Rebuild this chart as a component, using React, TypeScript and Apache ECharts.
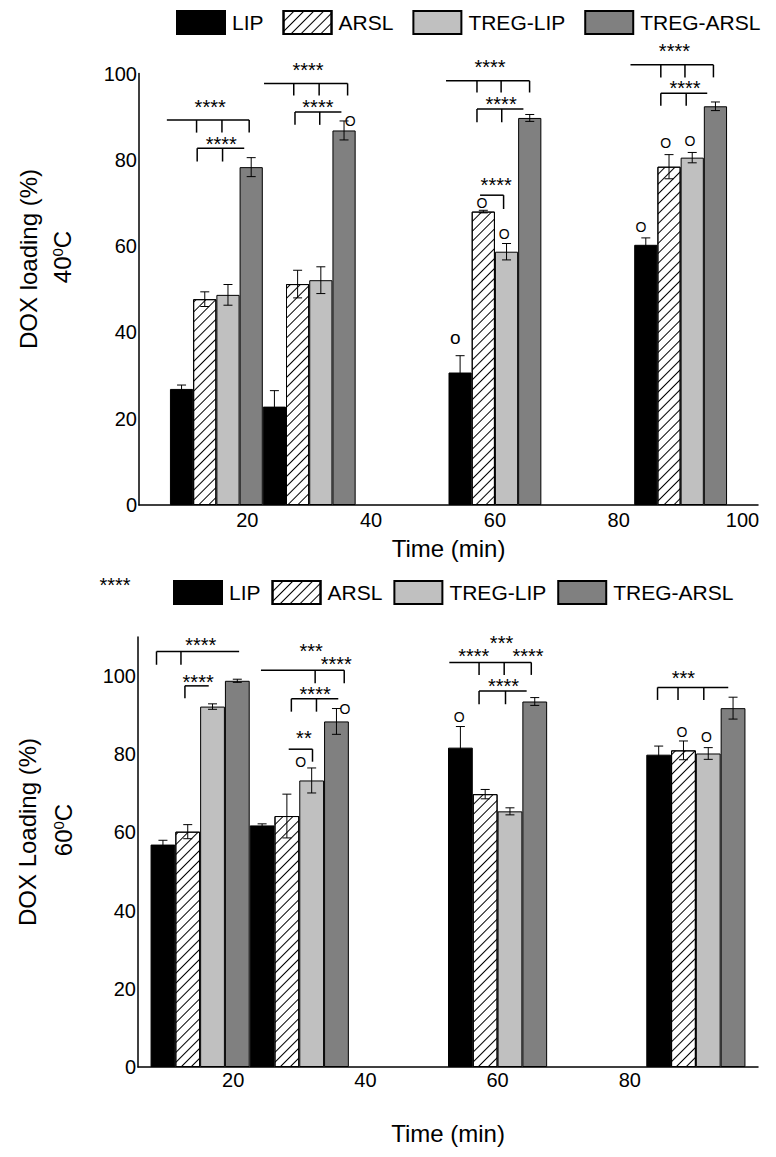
import React, { useEffect, useRef } from 'react';
import * as echarts from 'echarts';

const FONT = '"Liberation Sans", Arial, Helvetica, sans-serif';

// ---- data ----
const TIMES = [15, 30, 60, 90];
const SERIES_NAMES = ['LIP', 'ARSL', 'TREG-LIP', 'TREG-ARSL'];

// 40 C
const LIP_40 = [26.9, 22.8, 30.7, 60.3];
const LIP_40_ERR = [0.9, 3.7, 3.9, 1.6];
const ARSL_40 = [47.7, 51.2, 68.0, 78.4];
const ARSL_40_ERR = [1.7, 3.2, 0.3, 2.8];
const TLIP_40 = [48.7, 52.1, 58.7, 80.5];
const TLIP_40_ERR = [2.4, 3.1, 1.9, 1.2];
const TARSL_40 = [78.3, 86.8, 89.7, 92.4];
const TARSL_40_ERR = [2.2, 2.2, 0.8, 1.0];

// 60 C
const LIP_60 = [56.9, 61.8, 81.7, 79.9];
const LIP_60_ERR = [1.1, 0.4, 5.4, 2.2];
const ARSL_60 = [60.2, 64.2, 69.8, 81.0];
const ARSL_60_ERR = [1.8, 5.6, 1.2, 2.4];
const TLIP_60 = [92.2, 73.3, 65.4, 80.2];
const TLIP_60_ERR = [0.7, 3.2, 0.9, 1.5];
const TARSL_60 = [98.8, 88.4, 93.5, 91.8];
const TARSL_60_ERR = [0.4, 3.3, 1.0, 2.8];

const X_TICKS_40 = [20, 40, 60, 80, 100];
const X_TICKS_60 = [20, 40, 60, 80];
const Y_TICKS_60 = [0, 20, 40, 60, 80, 100];

// significance brackets: y level, x from/to, drop positions, drop end level
const BRACKETS_40 = [
  { y: 89.2, x1: 7.0, x2: 20.3, drops: [11.8, 15.9, 20.3], yEnd: 86.3 },
  { y: 82.7, x1: 11.9, x2: 19.5, drops: [11.9, 16.0], yEnd: 79.6 },
  { y: 97.7, x1: 22.7, x2: 36.2, drops: [27.5, 31.6, 36.2], yEnd: 94.9 },
  { y: 91.1, x1: 27.7, x2: 35.2, drops: [27.7, 31.7], yEnd: 88.1 },
  { y: 98.3, x1: 52.1, x2: 65.6, drops: [57.1, 61.0, 65.6], yEnd: 95.6 },
  { y: 91.8, x1: 57.1, x2: 64.6, drops: [57.1, 61.1], yEnd: 88.7 },
  { y: 71.8, x1: 57.6, x2: 61.4, drops: [61.4], yEnd: 68.6 },
  { y: 102.0, x1: 81.9, x2: 95.3, drops: [86.8, 90.7, 95.3], yEnd: 99.1 },
  { y: 95.4, x1: 86.8, x2: 94.3, drops: [86.8, 90.9], yEnd: 92.5 },
];
const MARKS_40: [number, number, string][] = [
  [14.0, 92.9, '****'], [15.8, 84.4, '****'],
  [29.8, 101.6, '****'], [31.4, 92.9, '****'], [36.6, 89.1, 'O'],
  [59.2, 102.2, '****'], [61.0, 93.6, '****'], [60.2, 74.9, '****'],
  [57.9, 69.9, 'O'], [61.5, 62.8, 'O'], [53.6, 38.9, 'o'],
  [89.0, 105.8, '****'], [90.7, 97.3, '****'],
  [87.6, 83.8, 'O'], [91.5, 84.4, 'O'], [83.6, 64.5, 'O'],
];

const BRACKETS_60 = [
  { y: 106.3, x1: 8.4, x2: 20.9, drops: [8.4, 12.1], yEnd: 102.9 },
  { y: 97.5, x1: 12.7, x2: 16.3, drops: [12.7], yEnd: 94.3 },
  { y: 101.5, x1: 24.2, x2: 36.8, drops: [32.4, 36.8], yEnd: 98.2 },
  { y: 94.2, x1: 28.8, x2: 35.9, drops: [28.8, 32.6], yEnd: 90.9 },
  { y: 81.3, x1: 28.4, x2: 32.0, drops: [32.0], yEnd: 78.1 },
  { y: 103.5, x1: 52.7, x2: 65.1, drops: [57.2, 61.0, 65.1], yEnd: 100.3 },
  { y: 96.2, x1: 57.2, x2: 64.4, drops: [57.2, 61.2], yEnd: 92.8 },
  { y: 97.1, x1: 84.2, x2: 94.9, drops: [84.2, 87.3, 91.2], yEnd: 93.9 },
];
const MARKS_60: [number, number, string][] = [
  [15.1, 108.7, '****'], [14.7, 99.2, '****'],
  [31.8, 107.2, '***'], [35.6, 103.8, '****'], [32.4, 96.2, '****'],
  [30.7, 84.9, '**'], [30.2, 77.9, 'O'], [36.9, 91.6, 'O'],
  [60.6, 109.3, '***'], [56.4, 105.9, '****'], [64.6, 105.9, '****'],
  [60.9, 98.2, '****'], [54.2, 89.6, 'O'],
  [88.1, 100.2, '***'], [87.9, 85.6, 'O'], [91.6, 84.5, 'O'],
];

// ---- styles ----
const BAR_UNITS = 3.75; // width of one bar in minutes (4 bars fill the 15-min gap)
const BAR_STYLES = [
  { color: '#000000', borderColor: '#000', borderWidth: 1 },
  {
    color: '#ffffff', borderColor: '#000', borderWidth: 1,
    decal: {
      symbol: 'rect', symbolSize: 1, color: '#000', backgroundColor: '#ffffff',
      dashArrayX: [1, 0], dashArrayY: [1, 5.5], rotation: -Math.PI / 4,
    },
  },
  { color: '#c0c0c0', borderColor: '#000', borderWidth: 1 },
  { color: '#808080', borderColor: '#000', borderWidth: 1 },
];

function barSeries(values: number[][], axis: number) {
  return values.map((vals, k) => ({
    type: 'bar',
    name: SERIES_NAMES[k],
    xAxisIndex: axis,
    yAxisIndex: axis,
    barGap: '0%',
    barCategoryGap: '0%',
    itemStyle: BAR_STYLES[k],
    emphasis: { disabled: true },
    data: TIMES.map((t, i) => [t, vals[i]]),
  }));
}

function errorSeries(values: number[][], errs: number[][], axis: number) {
  const data: number[][] = [];
  values.forEach((vals, k) => TIMES.forEach((t, i) => data.push([t, vals[i], errs[k][i], k])));
  return {
    type: 'custom',
    xAxisIndex: axis,
    yAxisIndex: axis,
    silent: true,
    z: 5,
    data,
    encode: { x: 0, y: 1 },
    renderItem: (params: any, api: any) => {
      const t = api.value(0), v = api.value(1), e = api.value(2), k = api.value(3);
      const xc = t + (k - 1.5) * BAR_UNITS;
      const top = api.coord([xc, v + e]);
      const bot = api.coord([xc, v - e]);
      const hw = 4.5;
      const st = { stroke: '#000', lineWidth: 1 };
      return {
        type: 'group',
        children: [
          { type: 'line', shape: { x1: top[0], y1: top[1], x2: bot[0], y2: bot[1] }, style: st },
          { type: 'line', shape: { x1: top[0] - hw, y1: top[1], x2: top[0] + hw, y2: top[1] }, style: st },
          { type: 'line', shape: { x1: bot[0] - hw, y1: bot[1], x2: bot[0] + hw, y2: bot[1] }, style: st },
        ],
      };
    },
  };
}

function bracketSeries(brackets: any[], axis: number) {
  return {
    type: 'custom',
    xAxisIndex: axis,
    yAxisIndex: axis,
    silent: true,
    z: 6,
    data: brackets.map((b) => [b.x1, b.y]),
    encode: { x: 0, y: 1 },
    renderItem: (params: any, api: any) => {
      const b = brackets[params.dataIndex];
      const p1 = api.coord([b.x1, b.y]);
      const p2 = api.coord([b.x2, b.y]);
      const yEnd = api.coord([b.x1, b.yEnd])[1];
      const st = { stroke: '#000', lineWidth: 1.5 };
      const children: any[] = [
        { type: 'line', shape: { x1: p1[0], y1: p1[1], x2: p2[0], y2: p2[1] }, style: st },
      ];
      b.drops.forEach((d: number) => {
        const x = api.coord([d, b.y])[0];
        children.push({ type: 'line', shape: { x1: x, y1: p1[1], x2: x, y2: yEnd }, style: st });
      });
      return { type: 'group', children };
    },
  };
}

function markSeries(marks: [number, number, string][], axis: number) {
  return {
    type: 'custom',
    xAxisIndex: axis,
    yAxisIndex: axis,
    silent: true,
    z: 7,
    data: marks.map((m) => [m[0], m[1]]),
    encode: { x: 0, y: 1 },
    renderItem: (params: any, api: any) => {
      const m = marks[params.dataIndex];
      const p = api.coord([m[0], m[1]]);
      const isStar = m[2].indexOf('*') >= 0;
      const size = isStar ? 20 : m[2] === 'o' ? 19 : 14;
      return {
        type: 'text',
        x: p[0],
        y: p[1] + (isStar ? 3 : 0),
        style: {
          text: m[2], fontSize: size, fontFamily: FONT, fill: '#000',
          align: 'center', verticalAlign: 'middle',
        },
      };
    },
  };
}

const axisLineStyle = { show: true, lineStyle: { color: '#000', width: 1.5 } };

export default function App() {
  const ref = useRef<HTMLDivElement>(null);
  useEffect(() => {
    document.body.style.margin = '0';
    const chart = echarts.init(ref.current!, undefined, { renderer: 'svg' });
    const v40 = [LIP_40, ARSL_40, TLIP_40, TARSL_40];
    const e40 = [LIP_40_ERR, ARSL_40_ERR, TLIP_40_ERR, TARSL_40_ERR];
    const v60 = [LIP_60, ARSL_60, TLIP_60, TARSL_60];
    const e60 = [LIP_60_ERR, ARSL_60_ERR, TLIP_60_ERR, TARSL_60_ERR];
    const legendBase = {
      data: SERIES_NAMES,
      orient: 'horizontal',
      itemWidth: 48,
      itemHeight: 23,
      icon: 'rect',
      selectedMode: false,
      padding: 0,
      textStyle: { fontSize: 21, fontFamily: FONT, color: '#000', padding: [0, 0, 0, 2] },
    };
    const titleText = (x: number, y: number, text: string) => ({
      type: 'text', x, y, rotation: Math.PI / 2,
      style: { text, fontSize: 24, fontFamily: FONT, fill: '#000', align: 'center', verticalAlign: 'middle' },
    });
    const tempText = (x: number, y: number, num: string) => ({
      type: 'text', x, y, rotation: Math.PI / 2,
      style: {
        text: `{n|${num}}{s|0}{n|C}`,
        rich: {
          n: { fontSize: 24, fontFamily: FONT, fill: '#000' },
          s: { fontSize: 15, fontFamily: FONT, fill: '#000', verticalAlign: 'top' },
        },
        align: 'center', verticalAlign: 'middle', fill: '#000',
      },
    });
    chart.setOption({
      animation: false,
      textStyle: { fontFamily: FONT },
      legend: [
        { ...legendBase, left: 176, top: 10, itemGap: 19 },
        { ...legendBase, left: 173, top: 580, itemGap: 11 },
      ],
      grid: [
        { left: 139, top: 73.5, width: 619, height: 431.5 },
        { left: 138, top: 637, width: 620, height: 430 },
      ],
      xAxis: [
        {
          type: 'value', gridIndex: 0, min: 2.5, max: 102.5,
          axisLine: axisLineStyle, axisTick: { show: false }, splitLine: { show: false },
          axisLabel: { customValues: X_TICKS_40, fontSize: 20, color: '#000', margin: 5, fontFamily: FONT },
          name: 'Time (min)', nameLocation: 'middle', nameGap: 31,
          nameTextStyle: { fontSize: 24, color: '#000', fontFamily: FONT },
        },
        {
          type: 'value', gridIndex: 1, min: 5.6, max: 99.4,
          axisLine: axisLineStyle, axisTick: { show: false }, splitLine: { show: false },
          axisLabel: { customValues: X_TICKS_60, fontSize: 20, color: '#000', margin: 3, fontFamily: FONT },
          name: 'Time (min)', nameLocation: 'middle', nameGap: 54,
          nameTextStyle: { fontSize: 24, color: '#000', fontFamily: FONT },
        },
      ],
      yAxis: [
        {
          type: 'value', gridIndex: 0, min: 0, max: 100, interval: 20,
          axisLine: axisLineStyle, axisTick: { show: false }, splitLine: { show: false },
          axisLabel: { fontSize: 20, color: '#000', margin: 2, fontFamily: FONT },
        },
        {
          type: 'value', gridIndex: 1, min: 0, max: 110, interval: 20,
          axisLine: axisLineStyle, axisTick: { show: false }, splitLine: { show: false },
          axisLabel: { customValues: Y_TICKS_60, fontSize: 20, color: '#000', margin: 2, fontFamily: FONT },
        },
      ],
      graphic: [
        titleText(28, 259, 'DOX loading (%)'),
        tempText(62, 257, '40'),
        titleText(27, 832, 'DOX Loading (%)'),
        tempText(63, 830, '60'),
        {
          type: 'text', x: 115, y: 585,
          style: { text: '****', fontSize: 20, fontFamily: FONT, fill: '#000', align: 'center', verticalAlign: 'middle' },
        },
      ],
      series: [
        ...barSeries(v40, 0),
        ...barSeries(v60, 1),
        errorSeries(v40, e40, 0),
        errorSeries(v60, e60, 1),
        bracketSeries(BRACKETS_40, 0),
        bracketSeries(BRACKETS_60, 1),
        markSeries(MARKS_40, 0),
        markSeries(MARKS_60, 1),
      ],
    });
    return () => chart.dispose();
  }, []);
  return <div ref={ref} style={{ width: 776, height: 1157 }} />;
}
